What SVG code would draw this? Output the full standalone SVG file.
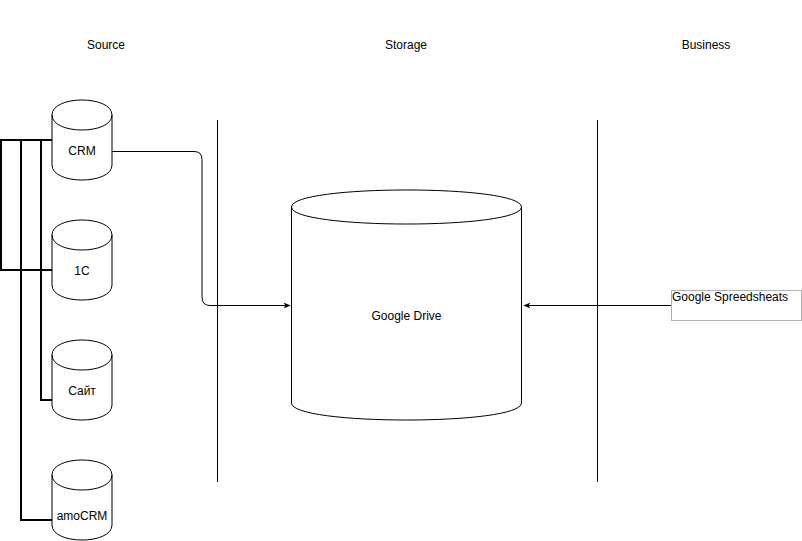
<svg xmlns="http://www.w3.org/2000/svg" width="802" height="541" viewBox="0 0 802 541">
<style>
.t{font-family:"Liberation Sans",Arial,sans-serif;font-size:12px;fill:#000;text-anchor:middle}
.cyl{fill:#fff;stroke:#000;stroke-width:1}
.c{fill:none;stroke:#000;stroke-width:1}
.thick{fill:none;stroke:#000;stroke-width:2}
</style>
<defs>
<marker id="ah" viewBox="0 0 10 10" refX="9" refY="5" markerWidth="7" markerHeight="7" markerUnits="userSpaceOnUse" orient="auto">
<path d="M0,1 L10,5 L0,9 L2.5,5 Z" fill="#000"/>
</marker>
</defs>
<rect width="802" height="541" fill="#fff"/>
<g id="headers">
<text class="t" x="106" y="49">Source</text>
<text class="t" x="406" y="49">Storage</text>
<text class="t" x="706" y="49">Business</text>
</g>
<g id="dividers">
<line class="c" x1="217.5" y1="120" x2="217.5" y2="482"/>
<line class="c" x1="597.5" y1="120" x2="597.5" y2="482"/>
</g>
<g id="connectors">
<path class="thick" d="M52,140 H1 V270 H52"/>
<path class="thick" d="M52,140 H21 V520 H52"/>
<path class="thick" d="M52,140 H41 V400 H52"/>
<path class="c" d="M112,151.5 H194 Q202,151.5 202,159.5 V297 Q202,305.5 210,305.5 H290" marker-end="url(#ah)"/>
<path class="c" d="M671,305.5 H524" marker-end="url(#ah)"/>
</g>
<g id="crm">
<path class="cyl" d="M52,115 C52,95 112,95 112,115 V165 C112,185 52,185 52,165 Z M52,115 C52,135 112,135 112,115"/>
<text class="t" x="82" y="155">CRM</text>
</g>
<g id="1c">
<path class="cyl" d="M52,235 C52,215 112,215 112,235 V285 C112,305 52,305 52,285 Z M52,235 C52,255 112,255 112,235"/>
<text class="t" x="82" y="275">1C</text>
</g>
<g id="site">
<path class="cyl" d="M52,355 C52,335 112,335 112,355 V405 C112,425 52,425 52,405 Z M52,355 C52,375 112,375 112,355"/>
<text class="t" x="82" y="395">Сайт</text>
</g>
<g id="amocrm">
<path class="cyl" d="M52,475 C52,455 112,455 112,475 V525 C112,545 52,545 52,525 Z M52,475 C52,495 112,495 112,475"/>
<text class="t" x="82" y="520">amoCRM</text>
</g>
<g id="gdrive">
<path class="cyl" d="M291.5,207 C291.5,184.3 521.5,184.3 521.5,207 V403 C521.5,425.7 291.5,425.7 291.5,403 Z M291.5,207 C291.5,229.7 521.5,229.7 521.5,207"/>
<text class="t" x="406.5" y="320">Google Drive</text>
</g>
<g id="gsheets">
<rect x="671.5" y="290.5" width="130" height="30" fill="#fff" stroke="#b3b3b3"/>
<text class="t" x="672" y="301" style="text-anchor:start">Google Spreedsheats</text>
</g>
</svg>
